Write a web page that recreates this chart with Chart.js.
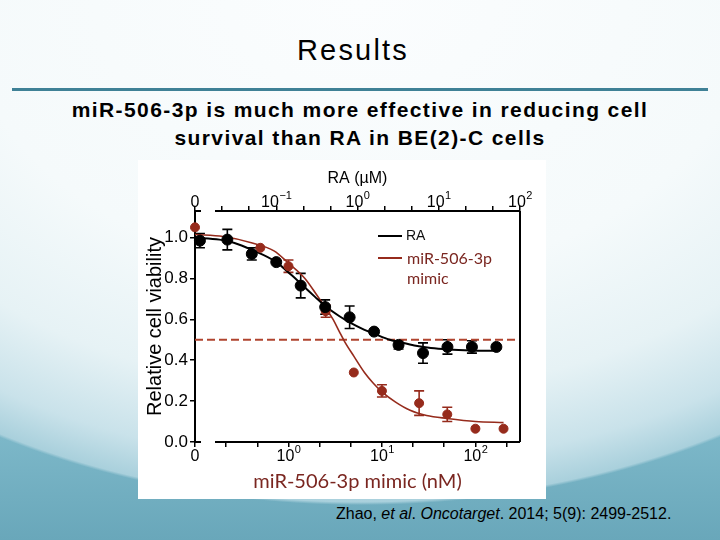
<!DOCTYPE html>
<html>
<head>
<meta charset="utf-8">
<script src="https://cdn.jsdelivr.net/npm/chart.js@4"></script>
<style>
  body {
    margin: 0;
    width: 720px;
    height: 540px;
    overflow: hidden;
    position: relative;
    font-family: "Liberation Sans", Arial, sans-serif;
    background:
      radial-gradient(ellipse 720px 505px at 360px 0px, #fbfdfe 0%, #f5fafb 55%, #e6f2f5 78%, #c9e2ea 92%, #a9d0dc 99.4%, rgba(0,0,0,0) 100%),
      linear-gradient(to bottom, #8ec3d2 0%, #7db8c9 80%, #69a7ba 100%);
  }
  #title {
    position: absolute; left: 0; width: 706px; top: 34px;
    text-align: center; font-size: 29px; letter-spacing: 2.2px; color: #000;
  }
  #rule {
    position: absolute; left: 12px; width: 696px; top: 88px; height: 3px;
    background: #3f8196;
  }
  #subtitle {
    position: absolute; left: 0; width: 720px; top: 96px;
    text-align: center; font-size: 21px; font-weight: bold; letter-spacing: 1.4px;
    line-height: 28px; color: #000;
  }
  #box {
    position: absolute; left: 138px; top: 160px; width: 408px; height: 339px;
    background: #fff;
  }
  #cite {
    position: absolute; left: 336px; top: 505px;
    font-size: 16px; color: #000;
  }
</style>
</head>
<body>
<div id="title">Results</div>
<div id="rule"></div>
<div id="subtitle">miR-506-3p is much more effective in reducing cell<br>survival than RA in BE(2)-C cells</div>
<div id="box"><canvas id="chart" width="408" height="339"></canvas></div>
<div id="cite">Zhao, <i>et al</i>. <i>Oncotarget</i>. 2014; 5(9): 2499-2512.</div>

<script>
// mimic (bottom axis, nM) -- first dose is the untreated control drawn at "0"
const mimicDose = [0.1, 0.5, 1, 2.5, 5, 10, 25, 50, 100, 200];
const mimicViability = [1.05, 0.95, 0.86, 0.64, 0.34, 0.25, 0.19, 0.135, 0.065, 0.065];
const mimicError = [0, 0, 0.03, 0.03, 0, 0.03, 0.06, 0.035, 0, 0];

// RA (top axis, uM) -- first dose is the untreated control drawn at "0"
const raDose = [0.0115, 0.025, 0.05, 0.1, 0.2, 0.4, 0.8, 1.6, 3.2, 6.4, 12.8, 25.6, 51.2];
const raViability = [0.985, 0.99, 0.92, 0.88, 0.765, 0.66, 0.61, 0.54, 0.475, 0.435, 0.465, 0.465, 0.465];
const raError = [0.035, 0.05, 0.03, 0, 0.06, 0.035, 0.055, 0, 0.02, 0.05, 0.035, 0.03, 0];

// fitted curves
const mimicFitX = [0.1, 0.2, 0.4, 0.7, 1, 1.5, 2, 2.5, 3, 3.5, 4, 5, 6.5, 8, 10, 14, 20, 30, 50, 100, 200];
const mimicFitY = [1.015, 1.005, 0.975, 0.935, 0.875, 0.8, 0.72, 0.655, 0.6, 0.54, 0.49, 0.42, 0.34, 0.29, 0.245, 0.195, 0.155, 0.13, 0.115, 0.1, 0.095];
const raFitX = [0.01, 0.02, 0.03, 0.05, 0.1, 0.15, 0.2, 0.3, 0.4, 0.6, 0.8, 1.2, 1.6, 2.5, 3.2, 5, 8, 13, 25, 51.2];
const raFitY = [1.0, 0.99, 0.975, 0.94, 0.88, 0.82, 0.775, 0.71, 0.665, 0.615, 0.585, 0.55, 0.53, 0.5, 0.49, 0.472, 0.46, 0.453, 0.448, 0.446];

const halfLine = [0.5, 0.5];
const halfLineX = [0.1, 300];

const yTicks = [0, 0.1, 0.2, 0.3, 0.4, 0.5, 0.6, 0.7, 0.8, 0.9, 1.0];

const RED = '#962b1c';
const RED_TEXT = '#7a2620';
const FONT = '"Liberation Sans", Arial, sans-serif';

function pts(xs, ys) {
  return xs.map((x, i) => ({x: x, y: ys[i]}));
}

// tick labels for the log axes: "0" at the axis start, 10^n at decades
const logLabels = {
  id: 'logLabels',
  afterDraw(chart) {
    const ctx = chart.ctx;
    ctx.save();
    ctx.fillStyle = '#000';
    ctx.textBaseline = 'middle';
    [['x', 0.1, 15], ['x2', 0.01, -8]].forEach(([id, min, dy]) => {
      const s = chart.scales[id];
      const yy = (id === 'x' ? s.top : s.bottom) + dy;
      s.ticks.forEach(t => {
        const e = Math.log10(t.value);
        const px = s.getPixelForValue(t.value);
        if (Math.abs(e - Math.log10(min)) < 1e-6) {
          ctx.font = '16px ' + FONT;
          ctx.textAlign = 'center';
          ctx.fillText('0', px, yy);
          return;
        }
        if (Math.abs(e - Math.round(e)) > 1e-6) return;
        const exp = String(Math.round(e)).replace('-', '\u2212');
        ctx.font = '16px ' + FONT;
        const w1 = ctx.measureText('10').width;
        ctx.font = '11px ' + FONT;
        const w2 = ctx.measureText(exp).width;
        const x0 = px - (w1 + w2) / 2;
        ctx.textAlign = 'left';
        ctx.font = '16px ' + FONT;
        ctx.fillText('10', x0, yy);
        ctx.font = '11px ' + FONT;
        ctx.fillText(exp, x0 + w1 + 0.5, yy - 7);
      });
    });
    ctx.restore();
  }
};

// error bars, drawn under the points
const errorBars = {
  id: 'errorBars',
  beforeDatasetsDraw(chart) {
    const ctx = chart.ctx;
    const y = chart.scales.y;
    chart.data.datasets.forEach((ds, di) => {
      if (!ds.errors) return;
      const meta = chart.getDatasetMeta(di);
      ctx.save();
      ctx.strokeStyle = ds.borderColor;
      ctx.lineWidth = 1.6;
      meta.data.forEach((el, i) => {
        const e = ds.errors[i];
        if (!e) return;
        const v = ds.data[i].y;
        const top = y.getPixelForValue(v + e);
        const bot = y.getPixelForValue(v - e);
        ctx.beginPath();
        ctx.moveTo(el.x, top); ctx.lineTo(el.x, bot);
        ctx.moveTo(el.x - 5, top); ctx.lineTo(el.x + 5, top);
        ctx.moveTo(el.x - 5, bot); ctx.lineTo(el.x + 5, bot);
        ctx.stroke();
      });
      ctx.restore();
    });
  }
};

// broken x axis lines, right frame, legend
const frame = {
  id: 'frame',
  afterDraw(chart) {
    const ctx = chart.ctx;
    const a = chart.chartArea;
    ctx.save();
    ctx.strokeStyle = '#000';
    ctx.lineWidth = 2;
    ctx.beginPath();
    [a.top, a.bottom].forEach(yy => {
      ctx.moveTo(a.left, yy); ctx.lineTo(a.left + 6, yy);
      ctx.moveTo(a.left + 20, yy); ctx.lineTo(a.right, yy);
    });
    ctx.moveTo(a.right, a.top); ctx.lineTo(a.right, a.bottom);
    ctx.stroke();

    // legend
    const lx = a.left + 183;
    ctx.lineWidth = 2;
    ctx.strokeStyle = '#000';
    ctx.beginPath(); ctx.moveTo(lx, a.top + 25); ctx.lineTo(lx + 24, a.top + 25); ctx.stroke();
    ctx.strokeStyle = RED;
    ctx.beginPath(); ctx.moveTo(lx, a.top + 47); ctx.lineTo(lx + 24, a.top + 47); ctx.stroke();
    ctx.textBaseline = 'middle';
    ctx.fillStyle = '#111';
    ctx.font = '14px ' + FONT;
    ctx.fillText('RA', lx + 28, a.top + 25);
    ctx.fillStyle = RED_TEXT;
    ctx.font = '16px Lato, "Open Sans", sans-serif';
    ctx.fillText('miR-506-3p', lx + 29, a.top + 48);
    ctx.fillText('mimic', lx + 29, a.top + 68);
    ctx.restore();
  }
};

function logTicks(first, count) {
  return s => {
    s.ticks = [];
    for (let k = 0; k <= count; k++) s.ticks.push({value: Math.pow(10, first + k / 3)});
  };
}

const tickGrid = { drawOnChartArea: false, drawTicks: true, tickLength: 5, color: '#000', lineWidth: 1.5 };

new Chart(document.getElementById('chart'), {
  type: 'scatter',
  data: {
    datasets: [
      {
        label: 'RA',
        data: pts(raDose, raViability),
        errors: raError,
        xAxisID: 'x2',
        borderColor: '#000',
        backgroundColor: '#000',
        pointRadius: 5.5,
        showLine: false,
        clip: false
      },
      {
        label: 'miR-506-3p mimic',
        data: pts(mimicDose, mimicViability),
        errors: mimicError,
        xAxisID: 'x',
        borderColor: RED,
        backgroundColor: RED,
        pointRadius: 4.5,
        showLine: false,
        clip: false
      },
      {
        label: 'RA fit',
        data: pts(raFitX, raFitY),
        xAxisID: 'x2',
        borderColor: '#000',
        borderWidth: 2,
        pointRadius: 0,
        showLine: true,
        cubicInterpolationMode: 'monotone'
      },
      {
        label: 'mimic fit',
        data: pts(mimicFitX, mimicFitY),
        xAxisID: 'x',
        borderColor: RED,
        borderWidth: 1.6,
        pointRadius: 0,
        showLine: true,
        cubicInterpolationMode: 'monotone'
      },
      {
        label: '50%',
        data: pts(halfLineX, halfLine),
        xAxisID: 'x',
        borderColor: '#b0442f',
        borderWidth: 2,
        borderDash: [8, 4],
        pointRadius: 0,
        showLine: true
      }
    ]
  },
  options: {
    responsive: false,
    animation: false,
    devicePixelRatio: 1,
    layout: { padding: { left: 0, right: 26, top: 0, bottom: 0 } },
    plugins: {
      legend: { display: false },
      tooltip: { enabled: false }
    },
    scales: {
      x: {
        type: 'logarithmic',
        position: 'bottom',
        min: 0.1,
        max: 300,
        afterFit: s => { s.height = 57; },
        afterBuildTicks: logTicks(-1, 10),
        border: { display: false },
        grid: tickGrid,
        ticks: { autoSkip: false, maxRotation: 0, callback: () => '' },
        title: {
          display: true, text: 'miR-506-3p mimic (nM)', color: RED_TEXT,
          font: { family: 'Lato, "Open Sans", sans-serif', size: 20 },
          padding: { top: 0, bottom: 5 }
        }
      },
      x2: {
        type: 'logarithmic',
        position: 'top',
        min: 0.01,
        max: 100,
        afterFit: s => { s.height = 51; },
        afterBuildTicks: logTicks(-2, 12),
        border: { display: false },
        grid: tickGrid,
        ticks: { autoSkip: false, maxRotation: 0, callback: () => '' },
        title: {
          display: true, text: 'RA (\u00B5M)', color: '#000',
          font: { family: FONT, size: 16 },
          padding: { top: 9, bottom: 0 }
        }
      },
      y: {
        type: 'linear',
        min: 0,
        max: 1.13,
        afterFit: s => { s.width = 57; },
        afterBuildTicks: s => { s.ticks = yTicks.map(v => ({value: v})); },
        border: { display: true, color: '#000', width: 2 },
        grid: tickGrid,
        ticks: {
          padding: 2, color: '#000',
          font: { family: FONT, size: 17 },
          callback: v => (Math.round(v * 10) % 2 === 0 ? v.toFixed(1) : '')
        },
        title: {
          display: true, text: 'Relative cell viability', color: '#000',
          font: { family: FONT, size: 20 },
          padding: { top: 5, bottom: 0 }
        }
      }
    }
  },
  plugins: [errorBars, frame, logLabels]
});
</script>
</body>
</html>
